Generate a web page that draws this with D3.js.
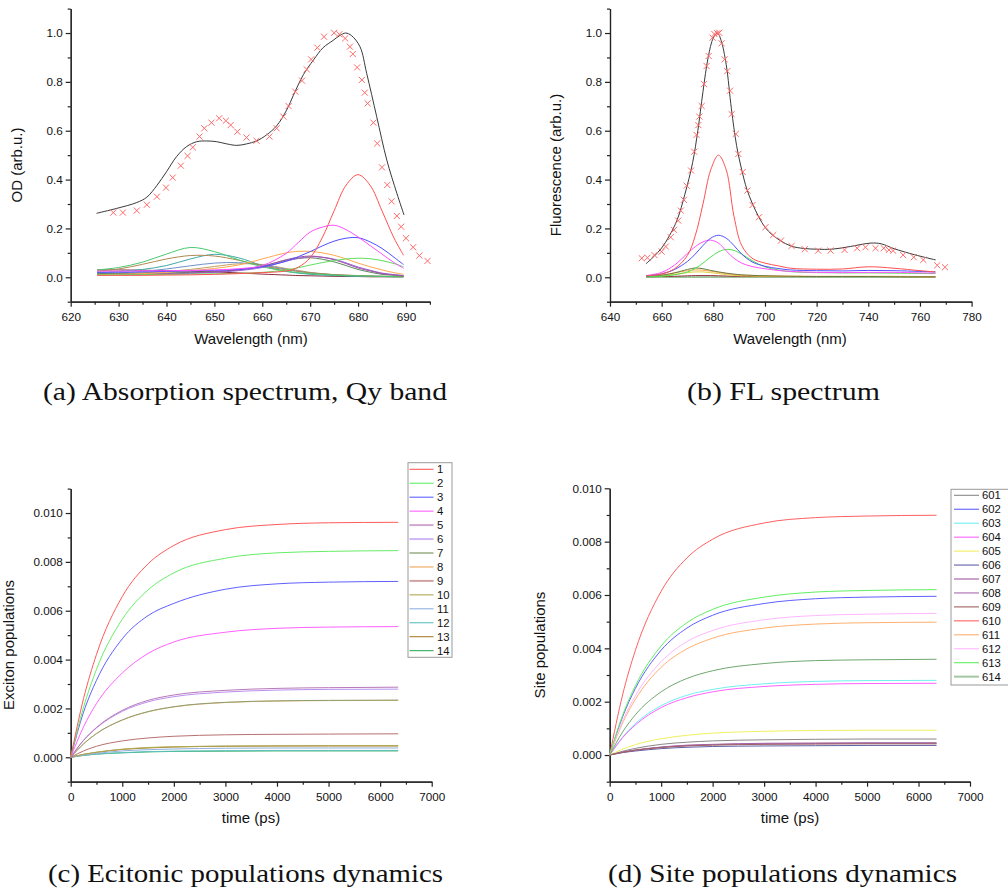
<!DOCTYPE html>
<html>
<head>
<meta charset="utf-8">
<script src="https://cdn.jsdelivr.net/npm/d3@7"></script>
<style>
  body { margin: 0; background: #fff; }
  svg { display: block; }
</style>
</head>
<body>
<div id="chart"></div>
<script>
// ---- (a) absorption, Qy band ----
const absFitX = [625.4, 629.6, 633.8, 635.9, 638, 640, 642.1, 644.2, 646.3, 648.4, 650.5, 652.6, 654.7, 656.7, 658.8, 660.9, 663, 665.1, 666.5, 668.6, 670.7, 672.7, 674.8, 676.2, 677.4, 678.6, 680.4, 681.8, 683.9, 686, 688.1, 689.6];
const absFitY = [0.262, 0.282, 0.306, 0.328, 0.376, 0.432, 0.494, 0.535, 0.555, 0.558, 0.555, 0.546, 0.540, 0.546, 0.558, 0.583, 0.620, 0.685, 0.745, 0.830, 0.890, 0.940, 0.970, 0.990, 1.0, 0.99, 0.944, 0.835, 0.657, 0.480, 0.344, 0.255];

const absExpX = [628.9, 630.9, 633.8, 635.9, 638, 639.9, 641.3, 643, 644.4, 645.5, 646.9, 647.9, 649.4, 651, 652.4, 653.4, 654.8, 656.7, 658.8, 661.5, 663, 664.4, 665.5, 666.9, 668.3, 669.3, 670.2, 671.5, 672.9, 675, 676.1, 677.3, 678.3, 678.9, 679.8, 680.8, 681.4, 682, 683.2, 684, 685, 686.1, 687, 688.1, 689, 690, 691.5, 692.8, 694.5];
const absExpY = [0.265, 0.265, 0.273, 0.297, 0.330, 0.367, 0.408, 0.457, 0.497, 0.532, 0.576, 0.610, 0.633, 0.651, 0.641, 0.623, 0.596, 0.572, 0.559, 0.576, 0.610, 0.658, 0.701, 0.760, 0.805, 0.851, 0.892, 0.940, 0.985, 1.001, 0.995, 0.978, 0.944, 0.914, 0.859, 0.808, 0.756, 0.712, 0.633, 0.548, 0.450, 0.378, 0.311, 0.251, 0.207, 0.160, 0.123, 0.089, 0.067];

const absGrid = [625.5, 630, 635, 640, 645, 650, 655, 660, 665, 667.5, 670, 672.5, 675, 677.5, 680, 682.5, 685, 687.5, 689.5];
const absMaroon = [0.030, 0.030, 0.029, 0.027, 0.025, 0.022, 0.018, 0.013, 0.009, 0.007, 0.006, 0.005, 0.004, 0.003, 0.003, 0.002, 0.002, 0.002, 0.002];
const absKhaki  = [0.012, 0.014, 0.018, 0.024, 0.032, 0.044, 0.055, 0.052, 0.036, 0.028, 0.020, 0.015, 0.010, 0.007, 0.005, 0.004, 0.003, 0.002, 0.002];
const absSteel  = [0.015, 0.018, 0.024, 0.034, 0.047, 0.058, 0.060, 0.050, 0.033, 0.025, 0.018, 0.014, 0.010, 0.008, 0.006, 0.005, 0.004, 0.003, 0.003];
const absTeal   = [0.020, 0.024, 0.032, 0.048, 0.075, 0.094, 0.080, 0.048, 0.024, 0.017, 0.012, 0.009, 0.007, 0.005, 0.004, 0.003, 0.003, 0.002, 0.002];
const absBrown  = [0.025, 0.034, 0.053, 0.075, 0.089, 0.087, 0.070, 0.048, 0.030, 0.024, 0.018, 0.014, 0.011, 0.009, 0.007, 0.005, 0.004, 0.003, 0.003];
const absGreen  = [0.030, 0.040, 0.062, 0.095, 0.122, 0.105, 0.072, 0.043, 0.025, 0.019, 0.015, 0.012, 0.009, 0.007, 0.006, 0.005, 0.004, 0.003, 0.003];
const absOlive  = [0.016, 0.016, 0.017, 0.018, 0.020, 0.024, 0.031, 0.046, 0.070, 0.077, 0.080, 0.074, 0.063, 0.048, 0.032, 0.021, 0.012, 0.008, 0.005];
const absViolet = [0.010, 0.010, 0.011, 0.013, 0.016, 0.020, 0.027, 0.040, 0.066, 0.077, 0.084, 0.082, 0.074, 0.059, 0.042, 0.029, 0.017, 0.011, 0.007];
const absPurple = [0.012, 0.012, 0.013, 0.015, 0.018, 0.022, 0.030, 0.045, 0.072, 0.082, 0.087, 0.082, 0.072, 0.056, 0.038, 0.026, 0.015, 0.010, 0.006];
const absOrange = [0.010, 0.012, 0.015, 0.020, 0.027, 0.036, 0.050, 0.075, 0.100, 0.106, 0.106, 0.100, 0.090, 0.075, 0.058, 0.043, 0.030, 0.019, 0.012];
const absLime   = [0.010, 0.010, 0.011, 0.012, 0.013, 0.014, 0.016, 0.020, 0.030, 0.039, 0.050, 0.060, 0.068, 0.075, 0.078, 0.076, 0.068, 0.056, 0.043];
const absBlue   = [0.020, 0.021, 0.022, 0.024, 0.026, 0.028, 0.032, 0.043, 0.066, 0.084, 0.105, 0.128, 0.148, 0.160, 0.162, 0.145, 0.118, 0.082, 0.052];
const absMagenta = [0.025, 0.025, 0.026, 0.027, 0.028, 0.030, 0.035, 0.048, 0.098, 0.142, 0.185, 0.205, 0.213, 0.195, 0.165, 0.130, 0.095, 0.060, 0.037];
const absRed    = [0.008, 0.008, 0.008, 0.009, 0.010, 0.012, 0.015, 0.019, 0.026, 0.041, 0.080, 0.161, 0.272, 0.377, 0.420, 0.377, 0.272, 0.161, 0.090];

// ---- (b) fluorescence ----
const flFitX = [653.9, 657, 660, 663, 666, 669, 672, 674, 676, 678, 680, 681.6, 683, 685, 687, 689, 691, 693, 695.2, 697.7, 700, 703, 706, 710, 715, 720, 726, 733, 741, 745, 750, 758, 766.1];
const flFitY = [0.055, 0.085, 0.120, 0.170, 0.235, 0.340, 0.470, 0.600, 0.760, 0.900, 0.980, 1.0, 0.970, 0.870, 0.690, 0.540, 0.440, 0.360, 0.300, 0.245, 0.205, 0.172, 0.150, 0.128, 0.118, 0.115, 0.115, 0.126, 0.140, 0.137, 0.117, 0.092, 0.071];

const flExpX = [652.3, 654.5, 657.2, 660, 661.6, 663.5, 664.8, 666.4, 667.4, 668.6, 669.7, 671.4, 672.6, 673.5, 674.2, 674.6, 675.5, 676.4, 677.4, 678.2, 679.7, 680.4, 681.5, 682.3, 683.2, 684.4, 685.4, 686.5, 687.1, 688.7, 689.7, 691.4, 693.2, 695.2, 697.7, 700.2, 703.2, 706.2, 710.3, 715.4, 720.6, 725.4, 730.8, 735.7, 738.9, 742.8, 746, 748, 749.6, 753.5, 757.6, 761.3, 766.7, 769.7];
const flExpY = [0.078, 0.080, 0.091, 0.105, 0.126, 0.164, 0.194, 0.232, 0.273, 0.317, 0.375, 0.437, 0.514, 0.583, 0.623, 0.658, 0.701, 0.791, 0.865, 0.906, 0.981, 0.996, 0.999, 1.001, 0.958, 0.892, 0.844, 0.764, 0.668, 0.587, 0.505, 0.431, 0.355, 0.296, 0.246, 0.205, 0.173, 0.150, 0.128, 0.115, 0.109, 0.109, 0.112, 0.119, 0.123, 0.119, 0.119, 0.112, 0.109, 0.091, 0.082, 0.071, 0.049, 0.041];

const flGrid = [654, 660, 665, 670, 673, 676, 679, 682, 685, 688, 691, 695, 700, 705, 710, 720, 730, 740, 750, 760, 766];
const flDkGreen = [0.001, 0.001, 0.001, 0.001, 0.001, 0.001, 0.001, 0.001, 0.001, 0.001, 0.001, 0.001, 0.001, 0.001, 0.001, 0.001, 0.001, 0.001, 0.001, 0.001, 0.001];
const flMaroon = [0.002, 0.003, 0.004, 0.006, 0.007, 0.007, 0.007, 0.006, 0.005, 0.004, 0.004, 0.003, 0.003, 0.003, 0.003, 0.003, 0.003, 0.003, 0.003, 0.002, 0.002];
const flYellow = [0.002, 0.006, 0.012, 0.019, 0.022, 0.022, 0.019, 0.015, 0.011, 0.008, 0.006, 0.005, 0.004, 0.004, 0.003, 0.003, 0.003, 0.003, 0.003, 0.002, 0.002];
const flOrange = [0.004, 0.010, 0.018, 0.027, 0.030, 0.029, 0.025, 0.020, 0.015, 0.011, 0.009, 0.007, 0.006, 0.005, 0.005, 0.004, 0.004, 0.004, 0.004, 0.003, 0.003];
const flOlive = [0.003, 0.008, 0.018, 0.032, 0.038, 0.035, 0.028, 0.022, 0.017, 0.013, 0.010, 0.008, 0.006, 0.005, 0.004, 0.003, 0.003, 0.003, 0.002, 0.002, 0.002];
const flLime = [0.002, 0.004, 0.010, 0.022, 0.036, 0.058, 0.083, 0.104, 0.114, 0.110, 0.095, 0.068, 0.043, 0.030, 0.023, 0.019, 0.018, 0.018, 0.017, 0.016, 0.015];
const flMagenta = [0.007, 0.020, 0.050, 0.098, 0.125, 0.145, 0.152, 0.140, 0.108, 0.078, 0.058, 0.044, 0.035, 0.028, 0.024, 0.020, 0.019, 0.020, 0.020, 0.018, 0.017];
const flBlue = [0.005, 0.014, 0.032, 0.065, 0.095, 0.130, 0.160, 0.172, 0.160, 0.130, 0.095, 0.063, 0.045, 0.036, 0.030, 0.027, 0.026, 0.028, 0.027, 0.024, 0.022];
const flRed = [0.006, 0.014, 0.035, 0.090, 0.170, 0.300, 0.440, 0.500, 0.440, 0.250, 0.130, 0.078, 0.058, 0.047, 0.037, 0.033, 0.034, 0.043, 0.037, 0.027, 0.022];

// ---- (c) exciton populations, (d) site populations ----
const popT = [0, 250, 500, 1000, 1500, 2000, 3000, 4000, 5000, 6350];

const excLabels = ['1', '2', '3', '4', '5', '6', '7', '8', '9', '10', '11', '12', '13', '14'];
const exc1  = [0, 0.00241, 0.00421, 0.00658, 0.00792, 0.00867, 0.00932, 0.00953, 0.00960, 0.00962];
const exc2  = [0, 0.00205, 0.00360, 0.00565, 0.00685, 0.00755, 0.00815, 0.00837, 0.00843, 0.00846];
const exc3  = [0, 0.00185, 0.00315, 0.00485, 0.00580, 0.00630, 0.00688, 0.00710, 0.00717, 0.00720];
const exc4  = [0, 0.00125, 0.00220, 0.00345, 0.00425, 0.00472, 0.00512, 0.00528, 0.00533, 0.00535];
const exc5  = [0, 0.00070, 0.00122, 0.00192, 0.00233, 0.00255, 0.00274, 0.00282, 0.00285, 0.00287];
const exc6  = [0, 0.00069, 0.00120, 0.00188, 0.00227, 0.00248, 0.00267, 0.00275, 0.00278, 0.00279];
const exc7  = [0, 0.00055, 0.00097, 0.00153, 0.00187, 0.00207, 0.00225, 0.00231, 0.00233, 0.00234];
const exc8  = [0, 0.00055, 0.00097, 0.00152, 0.00186, 0.00206, 0.00224, 0.00230, 0.00232, 0.00233];
const exc9  = [0, 0.00026, 0.00045, 0.00067, 0.00079, 0.00086, 0.00092, 0.00094, 0.00095, 0.00096];
const exc10 = [0, 0.00012, 0.00021, 0.00033, 0.00040, 0.00043, 0.00046, 0.00047, 0.00048, 0.00048];
const exc11 = [0, 0.00009, 0.00016, 0.00026, 0.00031, 0.00034, 0.00037, 0.00038, 0.00038, 0.00038];
const exc12 = [0, 0.00008, 0.00013, 0.00019, 0.00023, 0.00025, 0.00027, 0.00028, 0.00028, 0.00028];
const exc13 = [0, 0.00012, 0.00020, 0.00032, 0.00038, 0.00042, 0.00045, 0.00046, 0.00046, 0.00046];
const exc14 = [0, 0.00008, 0.00013, 0.00018, 0.00022, 0.00024, 0.00025, 0.00026, 0.00026, 0.00026];

const siteLabels = ['601', '602', '603', '604', '605', '606', '607', '608', '609', '610', '611', '612', '613', '614'];
const site601 = [0, 0.00014, 0.00025, 0.00040, 0.00048, 0.00053, 0.00057, 0.00059, 0.00060, 0.00060];
const site602 = [0, 0.00143, 0.00250, 0.00393, 0.00476, 0.00524, 0.00568, 0.00586, 0.00592, 0.00595];
const site603 = [0, 0.00067, 0.00118, 0.00185, 0.00224, 0.00246, 0.00267, 0.00276, 0.00279, 0.00280];
const site604 = [0, 0.00065, 0.00113, 0.00178, 0.00215, 0.00237, 0.00257, 0.00265, 0.00268, 0.00269];
const site605 = [0, 0.00022, 0.00039, 0.00061, 0.00074, 0.00082, 0.00089, 0.00092, 0.00093, 0.00093];
const site606 = [0, 0.00009, 0.00015, 0.00024, 0.00029, 0.00032, 0.00034, 0.00035, 0.00036, 0.00036];
const site607 = [0, 0.00011, 0.00019, 0.00030, 0.00037, 0.00040, 0.00044, 0.00045, 0.00046, 0.00046];
const site608 = [0, 0.00011, 0.00018, 0.00029, 0.00035, 0.00039, 0.00042, 0.00043, 0.00044, 0.00044];
const site609 = [0, 0.00010, 0.00018, 0.00028, 0.00034, 0.00037, 0.00040, 0.00041, 0.00042, 0.00042];
const site610 = [0, 0.00225, 0.00393, 0.00614, 0.00739, 0.00809, 0.00870, 0.00890, 0.00896, 0.00899];
const site611 = [0, 0.00120, 0.00209, 0.00329, 0.00398, 0.00438, 0.00476, 0.00491, 0.00496, 0.00498];
const site612 = [0, 0.00127, 0.00223, 0.00350, 0.00425, 0.00467, 0.00507, 0.00523, 0.00528, 0.00531];
const site613 = [0, 0.00149, 0.00260, 0.00409, 0.00496, 0.00546, 0.00592, 0.00611, 0.00617, 0.00620];
const site614 = [0, 0.00086, 0.00151, 0.00237, 0.00287, 0.00316, 0.00343, 0.00354, 0.00357, 0.00359];

const excColors = ['#ff5a5a', '#66ee66', '#6060ff', '#ff60ff', '#b878b8', '#b890f0', '#8aa070', '#f0b070', '#b87070', '#b0a850', '#90b0e0', '#60c0c0', '#a88030', '#30b060'];
const siteColors = ['#888888', '#6060ff', '#70f0f0', '#ff60ff', '#f0f060', '#6060a8', '#a058a0', '#a868b0', '#a06060', '#ff6060', '#ffb070', '#ffb8ff', '#60f060', '#70a870'];

// build the svg
const svgWidth = 1008;
const svgHeight = 893;
const svg = d3.select('#chart').append('svg')
  .attr('width', svgWidth)
  .attr('height', svgHeight);
svg.append('rect').attr('width', svgWidth).attr('height', svgHeight).attr('fill', '#fff');

const sans = "'Liberation Sans', Arial, sans-serif";

// axes in origin style: outward ticks, minor ticks, only left + bottom
function makePanel(p) {
  const x = d3.scaleLinear().domain(p.xDomain).range(p.xRange);
  const y = d3.scaleLinear().domain(p.yDomain).range(p.yRange);
  const g = svg.append('g');
  const axes = g.append('g');

  axes.append('g').attr('transform', `translate(0,${p.yRange[0]})`)
    .call(d3.axisBottom(x).tickValues(p.xMinor).tickSize(3).tickSizeOuter(0).tickFormat(''));
  axes.append('g').attr('transform', `translate(${p.xRange[0]},0)`)
    .call(d3.axisLeft(y).tickValues(p.yMinor).tickSize(3).tickSizeOuter(0).tickFormat(''));
  axes.append('g').attr('transform', `translate(0,${p.yRange[0]})`)
    .call(d3.axisBottom(x).tickValues(p.xMajor).tickSize(5).tickSizeOuter(0).tickPadding(6).tickFormat(d3.format('d')));
  axes.append('g').attr('transform', `translate(${p.xRange[0]},0)`)
    .call(d3.axisLeft(y).tickValues(p.yMajor).tickSize(5).tickSizeOuter(0).tickPadding(3).tickFormat(d3.format(p.yFmt)));

  axes.selectAll('.domain, .tick line').attr('stroke', '#222').attr('stroke-width', 1.2);
  axes.selectAll('text').attr('font-family', sans).attr('font-size', 11.7).attr('fill', '#111');

  // axis titles
  g.append('text')
    .attr('x', p.xTitle[0]).attr('y', p.xTitle[1])
    .attr('text-anchor', 'middle')
    .attr('font-family', sans).attr('font-size', 15).attr('fill', '#111')
    .text(p.xLabel);
  g.append('text')
    .attr('transform', `translate(${p.yTitle[0]},${p.yTitle[1]}) rotate(-90)`)
    .attr('text-anchor', 'middle')
    .attr('font-family', sans).attr('font-size', 15).attr('fill', '#111')
    .text(p.yLabel);

  return { g, x, y };
}

function drawSeries(panel, xs, series, colors, curve, width) {
  const line = d3.line()
    .x((d, i) => panel.x(xs[i]))
    .y(d => panel.y(d))
    .curve(curve);
  panel.g.append('g').selectAll('path')
    .data(series)
    .enter()
    .append('path')
    .attr('d', line)
    .attr('fill', 'none')
    .attr('stroke', (d, i) => colors[i])
    .attr('stroke-width', width);
}

function drawFit(panel, xs, ys) {
  const line = d3.line()
    .x((d, i) => panel.x(xs[i]))
    .y(d => panel.y(d))
    .curve(d3.curveCatmullRom.alpha(0.5));
  panel.g.append('path')
    .attr('d', line(ys))
    .attr('fill', 'none')
    .attr('stroke', '#3a3a3a')
    .attr('stroke-width', 1);
}

function drawCrosses(panel, xs, ys) {
  const cross = d3.symbol(d3.symbolTimes).size(26);
  panel.g.append('g').selectAll('path')
    .data(ys)
    .enter()
    .append('path')
    .attr('transform', (d, i) => `translate(${panel.x(xs[i])},${panel.y(d)})`)
    .attr('d', cross)
    .attr('fill', 'none')
    .attr('stroke', '#ff6868')
    .attr('stroke-width', 1);
}

function drawLegend(panel, labels, colors, box, thick) {
  const lg = panel.g.append('g');
  lg.append('rect')
    .attr('x', box.x).attr('y', box.y).attr('width', box.w).attr('height', box.h)
    .attr('fill', '#fff').attr('stroke', '#999').attr('stroke-width', 1);
  const rows = lg.selectAll('g.row')
    .data(labels)
    .enter()
    .append('g')
    .attr('class', 'row')
    .attr('transform', (d, i) => `translate(0,${box.first + i * box.step})`);
  rows.append('line')
    .attr('x1', box.lineX[0]).attr('x2', box.lineX[1])
    .attr('stroke', (d, i) => colors[i])
    .attr('stroke-opacity', (d, i) => thick.includes(i) ? 0.65 : 1)
    .attr('stroke-width', (d, i) => thick.includes(i) ? 2 : 1.1);
  rows.append('text')
    .attr('x', box.textX).attr('y', 4)
    .attr('font-family', sans).attr('font-size', 11.3).attr('fill', '#111')
    .text(d => d);
}

// ---- panel (a) ----
const pa = makePanel({
  xDomain: [620, 695], xRange: [70.7, 429.9],
  yDomain: [-0.1, 1.1], yRange: [301.7, 8.6],
  xMajor: d3.range(620, 691, 10), xMinor: d3.range(625, 696, 10),
  yMajor: [0, 0.2, 0.4, 0.6, 0.8, 1.0], yMinor: [-0.1, 0.1, 0.3, 0.5, 0.7, 0.9, 1.1],
  yFmt: '.1f',
  xLabel: 'Wavelength (nm)', xTitle: [251, 344],
  yLabel: 'OD (arb.u.)', yTitle: [22, 165]
});
drawSeries(pa, absGrid,
  [absMaroon, absKhaki, absSteel, absTeal, absBrown, absGreen, absOlive, absViolet, absPurple, absOrange, absLime, absBlue, absMagenta, absRed],
  ['#8a2a3a', '#c0a060', '#7090cc', '#40a8a8', '#b08850', '#48c870', '#5a8a5a', '#9a60d8', '#a050a8', '#ffa850', '#60e060', '#5050ff', '#ff50ff', '#ff5050'],
  d3.curveCatmullRom.alpha(0.5), 1);
drawFit(pa, absFitX, absFitY);
drawCrosses(pa, absExpX, absExpY);

// ---- panel (b) ----
const pb = makePanel({
  xDomain: [640, 780], xRange: [610, 971.6],
  yDomain: [-0.1, 1.1], yRange: [301.7, 8.6],
  xMajor: d3.range(640, 781, 20), xMinor: d3.range(650, 771, 20),
  yMajor: [0, 0.2, 0.4, 0.6, 0.8, 1.0], yMinor: [-0.1, 0.1, 0.3, 0.5, 0.7, 0.9, 1.1],
  yFmt: '.1f',
  xLabel: 'Wavelength (nm)', xTitle: [790, 344],
  yLabel: 'Fluorescence (arb.u.)', yTitle: [561, 165]
});
drawSeries(pb, flGrid,
  [flDkGreen, flMaroon, flYellow, flOrange, flOlive, flLime, flMagenta, flBlue, flRed],
  ['#3a8a3a', '#9a3040', '#e0d040', '#ffa850', '#6a7a40', '#50e050', '#ff50ff', '#5050ff', '#ff5050'],
  d3.curveCatmullRom.alpha(0.5), 1);
drawFit(pb, flFitX, flFitY);
drawCrosses(pb, flExpX, flExpY);

// ---- panel (c) ----
const pc = makePanel({
  xDomain: [0, 7000], xRange: [70.7, 431.7],
  yDomain: [-0.001, 0.011], yRange: [781.7, 488.6],
  xMajor: d3.range(0, 7001, 1000), xMinor: d3.range(500, 6501, 1000),
  yMajor: [0, 0.002, 0.004, 0.006, 0.008, 0.010], yMinor: [-0.001, 0.001, 0.003, 0.005, 0.007, 0.009, 0.011],
  yFmt: '.3f',
  xLabel: 'time (ps)', xTitle: [251, 823],
  yLabel: 'Exciton populations', yTitle: [14, 645]
});
// draw low populations first so the big ones sit on top
drawSeries(pc, popT,
  [exc14, exc13, exc12, exc11, exc10, exc9, exc8, exc7, exc6, exc5, exc4, exc3, exc2, exc1],
  excColors.slice().reverse(),
  d3.curveMonotoneX, 1);
drawLegend(pc, excLabels, excColors,
  { x: 408, y: 462.7, w: 44, h: 194.6, first: 469.3, step: 13.95, lineX: [409.5, 433.5], textX: 437 },
  [4, 5, 6, 7, 8]);

// ---- panel (d) ----
const pd = makePanel({
  xDomain: [0, 7000], xRange: [609.7, 970],
  yDomain: [-0.001, 0.010], yRange: [781.7, 488.3],
  xMajor: d3.range(0, 7001, 1000), xMinor: d3.range(500, 6501, 1000),
  yMajor: [0, 0.002, 0.004, 0.006, 0.008, 0.010], yMinor: [-0.001, 0.001, 0.003, 0.005, 0.007, 0.009],
  yFmt: '.3f',
  xLabel: 'time (ps)', xTitle: [790, 823],
  yLabel: 'Site populations', yTitle: [545, 645]
});
drawSeries(pd, popT,
  [site601, site602, site603, site604, site605, site606, site607, site608, site609, site610, site611, site612, site613, site614],
  siteColors, d3.curveMonotoneX, 1);
drawLegend(pd, siteLabels, siteColors,
  { x: 951, y: 489.3, w: 80, h: 195.7, first: 495.3, step: 13.95, lineX: [954, 979], textX: 982 },
  [13]);

// ---- captions ----
const captions = [
  { text: '(a) Absorption spectrum, Qy band', x: 43, y: 400, w: 404 },
  { text: '(b) FL spectrum', x: 687, y: 400, w: 193 },
  { text: '(c) Ecitonic populations dynamics', x: 48, y: 882, w: 395 },
  { text: '(d) Site populations dynamics', x: 608, y: 882, w: 349 }
];
svg.append('g').selectAll('text')
  .data(captions)
  .enter()
  .append('text')
  .attr('x', d => d.x).attr('y', d => d.y)
  .attr('textLength', d => d.w)
  .attr('lengthAdjust', 'spacingAndGlyphs')
  .attr('font-family', "'Liberation Serif', 'Times New Roman', serif")
  .attr('font-size', 25)
  .attr('fill', '#111')
  .text(d => d.text);
</script>
</body>
</html>
